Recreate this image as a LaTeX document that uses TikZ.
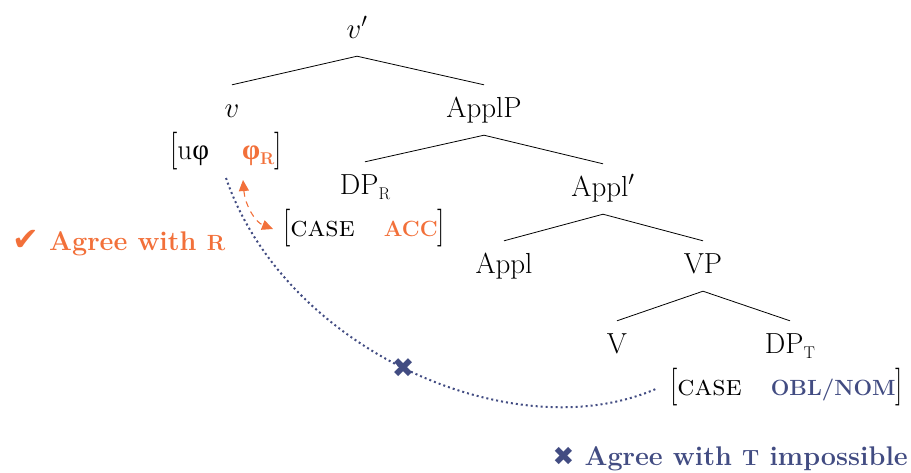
\RequirePackage{fix-cm}
\documentclass[tikz,border=0pt]{standalone}
\usepackage{fontspec}
\usepackage{graphicx}
\newfontfamily\djs{DejaVu Sans}
\newfontfamily\grk{Liberation Serif}
\usetikzlibrary{arrows.meta}
\definecolor{orng}{RGB}{242,112,58}
\definecolor{blu}{RGB}{66,76,130}
\newcommand\phiG{{\grk φ}}
\newcommand\bsc[1]{{\fontsize{22}{22}\selectfont\bfseries #1}}
\newcommand\subR[1]{\raisebox{-5pt}{\fontsize{17}{17}\selectfont #1}}
\newcommand\lbr{\raisebox{-1.5pt}{\scalebox{1}[1.3]{[}}}
\newcommand\rbr{\raisebox{-1.5pt}{\scalebox{1}[1.3]{]}}}
\begin{document}
\begin{tikzpicture}[x=1pt,y=-1pt,
  font=\fontsize{29}{34}\selectfont,
  tn/.style={inner sep=0pt, text height=32pt, text depth=18pt, anchor=base},
  feat/.style={inner sep=0pt, anchor=base west},
  branch/.style={line width=0.8pt, black},
  lbl/.style={inner sep=0pt, font=\fontsize{27}{32}\selectfont\bfseries},
  agreetip/.tip={Triangle[length=11pt,width=10pt]}]
\useasboundingbox (0,0) rectangle (911,472);
% tree labels
\node[tn] (vp) at (357,38) {$v'$};
\node[tn] (v) at (232,117) {$v$};
\node[tn] (applp) at (484,117) {ApplP};
\node[tn] (dpr) at (365,194) {DP\subR{R}};
\node[tn] (applb) at (603,196) {Appl$'$};
\node[tn] (appl) at (504,273) {Appl};
\node[tn] (vpn) at (703,273) {VP};
\node[tn] (vn) at (617,353) {V};
\node[tn] (dpt) at (790,353) {DP\subR{T}};
% branches
\draw[branch] (vp.south) -- (v.north);
\draw[branch] (vp.south) -- (applp.north);
\draw[branch] (applp.south) -- (dpr.north);
\draw[branch] (applp.south) -- (applb.north);
\draw[branch] (applb.south) -- (appl.north);
\draw[branch] (applb.south) -- (vpn.north);
\draw[branch] (vpn.south) -- (vn.north);
\draw[branch] (vpn.south) -- (dpt.north);
% feature bundles
\node[feat] (vf) at (170,159) {\lbr u\phiG\hspace{33pt}\textcolor{orng}{{\grk\bfseries φ}\subR{\bfseries R}}\rbr};
\node[feat] (accf) at (283,236) {\lbr\textsc{case}\hspace{29pt}\textcolor{orng}{\bsc{ACC}}\rbr};
\node[feat] (nomf) at (670,395) {\lbr\textsc{case}\hspace{29pt}\textcolor{blu}{\bsc{OBL/NOM}}\rbr};
% agree arrow
\coordinate (oa) at (243,180);
\coordinate (ob) at (273,229);
\draw[orng, line width=1.1pt, dash pattern=on 6pt off 5pt, agreetip-agreetip]
  (oa) .. controls (245,205) and (255,222) .. (ob);
% failed agree curve
\coordinate (cs) at (226,178);
\coordinate (ce) at (658,388);
\draw[blu, line width=2pt, dash pattern=on 2pt off 3pt]
  (cs) .. controls (285,350) and (515,452) .. (ce)
  node[pos=0.485, inner sep=0pt, text=blu, font=\djs\fontsize{27}{27}\selectfont] (xm) {✖};
% labels
\node[lbl, anchor=base west, text=orng] (agr) at (12,250) {{\djs\fontsize{32}{32}\selectfont ✔}\ Agree with \bsc{R}};
\node[lbl, anchor=base east, text=blu] (imp) at (908,465) {{\djs\fontsize{26}{26}\selectfont ✖}\ Agree with \bsc{T} impossible};
\end{tikzpicture}
\end{document}
